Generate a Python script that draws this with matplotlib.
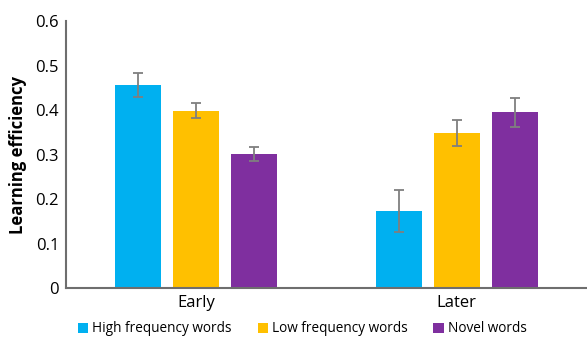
import numpy as np
import matplotlib
matplotlib.use('Agg')
import matplotlib.pyplot as plt

plt.rcParams['font.family'] = ['Open Sans', 'DejaVu Sans']

# data
groups = ['Early', 'Later']
series = ['High frequency words', 'Low frequency words', 'Novel words']
high_freq = [0.456, 0.173]
low_freq = [0.398, 0.348]
novel = [0.301, 0.395]
high_err = [0.027, 0.048]
low_err = [0.017, 0.029]
novel_err = [0.016, 0.033]
colors = ['#00B0F0', '#FFC000', '#7F2F9F']

values = [high_freq, low_freq, novel]
errors = [high_err, low_err, novel_err]

fig = plt.figure(figsize=(5.87, 3.39), dpi=100)
ax = fig.add_axes([0.1124, 0.1504, 0.8876, 0.7876])

x = np.arange(len(groups))
width = 0.177
step = 0.223
for i in range(3):
    ax.bar(x + (i - 1) * step, values[i], width, color=colors[i], label=series[i],
           yerr=errors[i], ecolor='#7F7F7F', capsize=3.5,
           error_kw={'elinewidth': 1.3, 'capthick': 1.3})

ax.set_xlim(-0.5, 1.5)
ax.set_ylim(0, 0.6)
ax.set_yticks([0, 0.1, 0.2, 0.3, 0.4, 0.5, 0.6])
ax.set_yticklabels(['0', '0.1', '0.2', '0.3', '0.4', '0.5', '0.6'])
ax.set_xticks(x)
ax.set_xticklabels(groups)
ax.tick_params(axis='both', length=0, labelsize=12, colors='#000000', pad=5)
ax.tick_params(axis='x', pad=5)
for s in ['top', 'right']:
    ax.spines[s].set_visible(False)
for s in ['left', 'bottom']:
    ax.spines[s].set_color('#6E6E6E')
    ax.spines[s].set_linewidth(1.5)
ax.set_ylabel('Learning efficiency', fontsize=12, fontweight='bold', labelpad=6)

# legend sits low, just under the category labels
fig.legend(loc='center', bbox_to_anchor=(0.515, 0.03), ncol=3, frameon=False,
           fontsize=9.8, handlelength=0.75, handleheight=0.75, handletextpad=0.3,
           columnspacing=1.9, borderpad=0.1)

plt.savefig('out.png', dpi=100)
